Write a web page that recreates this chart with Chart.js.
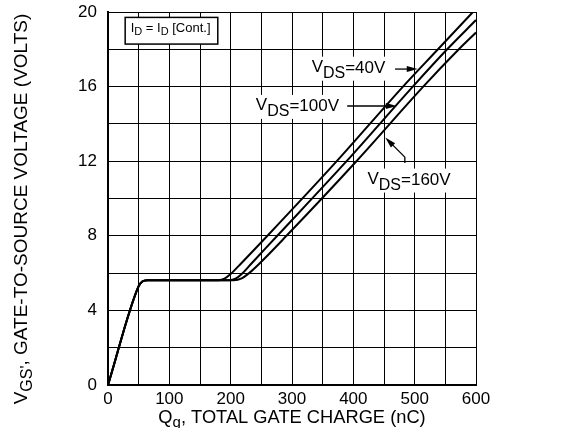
<!DOCTYPE html>
<html>
<head>
<meta charset="utf-8">
<script src="https://cdn.jsdelivr.net/npm/chart.js@4.4.0/dist/chart.umd.min.js"></script>
<style>
html, body { margin: 0; padding: 0; background: #fff; }
canvas { display: block; }
</style>
</head>
<body>
<canvas id="gateChart" width="568" height="428"></canvas>
<script>
// Gate charge curves: Qg (nC) against VGS (V), one curve per VDS
const qgVds40  = [0, 50, 56, 64, 180, 190, 200, 215, 260, 373, 481, 538, 595];
const vgsVds40 = [0, 5.3, 5.55, 5.62, 5.62, 5.7, 5.95, 6.45, 8, 12, 16, 18, 20];
const qgVds100  = [0, 50, 56, 64, 198, 208, 218, 232, 276, 389, 497, 553, 600];
const vgsVds100 = [0, 5.3, 5.55, 5.62, 5.62, 5.7, 5.95, 6.45, 8, 12, 16, 18, 19.57];
const qgVds160  = [0, 50, 56, 64, 205, 218, 230, 245, 291, 405, 514, 572, 600];
const vgsVds160 = [0, 5.3, 5.55, 5.62, 5.62, 5.72, 6.0, 6.45, 8, 12, 16, 18, 18.9];

const xTicks = [0, 100, 200, 300, 400, 500, 600];
const yTicks = [0, 4, 8, 12, 16, 20];

const FONT = '"Liberation Sans", Arial, Helvetica, sans-serif';

function toPoints(xs, ys) {
    return xs.map((x, i) => ({ x: x, y: ys[i] }));
}

function curve(xs, ys) {
    return {
        data: toPoints(xs, ys),
        borderColor: '#000',
        borderWidth: 2,
        pointRadius: 0,
        fill: false,
        cubicInterpolationMode: 'monotone'
    };
}

// draw text pieces one after another: [text, size, yOffset]
function drawRuns(ctx, runs, x, y) {
    let cx = x;
    runs.forEach(([t, size, dy]) => {
        ctx.font = size + 'px ' + FONT;
        ctx.fillText(t, cx, y + dy);
        cx += ctx.measureText(t).width;
    });
    return cx;
}

function runsWidth(ctx, runs) {
    let w = 0;
    runs.forEach(([t, size]) => {
        ctx.font = size + 'px ' + FONT;
        w += ctx.measureText(t).width;
    });
    return w;
}

function arrowHead(ctx, x1, y1, x2, y2) {
    const a = Math.atan2(y2 - y1, x2 - x1);
    const len = 11, half = 3;
    ctx.beginPath();
    ctx.moveTo(x1, y1);
    ctx.lineTo(x2 - (len - 2) * Math.cos(a), y2 - (len - 2) * Math.sin(a));
    ctx.stroke();
    ctx.beginPath();
    ctx.moveTo(x2, y2);
    ctx.lineTo(x2 - len * Math.cos(a) + half * Math.sin(a), y2 - len * Math.sin(a) - half * Math.cos(a));
    ctx.lineTo(x2 - len * Math.cos(a) - half * Math.sin(a), y2 - len * Math.sin(a) + half * Math.cos(a));
    ctx.closePath();
    ctx.fill();
}

// curve labels, placed in data units
const vdsLabels = [
    { text: '=40V', x: 332, y: 16.8, arrow: [[468, 16.94], [505, 16.94]] },
    { text: '=100V', x: 241, y: 14.75, arrow: [[390, 14.96], [471, 14.96]] },
    { text: '=160V', x: 423, y: 10.8, arrow: [[484, 11.9], [484, 12.22], [452, 13.27]] }
];

const annotations = {
    id: 'annotations',
    afterDatasetsDraw(chart) {
        const ctx = chart.ctx;
        const xs = chart.scales.x, ys = chart.scales.y;
        ctx.save();
        ctx.fillStyle = '#000';
        ctx.strokeStyle = '#000';
        ctx.textBaseline = 'alphabetic';
        ctx.textAlign = 'left';

        // current condition box
        const bx1 = xs.getPixelForValue(28), bx2 = xs.getPixelForValue(179);
        const by1 = ys.getPixelForValue(19.71), by2 = ys.getPixelForValue(18.28);
        ctx.fillStyle = '#fff';
        ctx.fillRect(bx1, by1, bx2 - bx1, by2 - by1);
        ctx.lineWidth = 1.5;
        ctx.strokeRect(bx1, by1, bx2 - bx1, by2 - by1);
        ctx.fillStyle = '#000';
        drawRuns(ctx, [['I', 13, 0], ['D', 11, 3], [' = I', 13, 0], ['D', 11, 3], [' [Cont.]', 13, 0]],
            xs.getPixelForValue(37), ys.getPixelForValue(18.94));

        // VDS labels with leader arrows
        vdsLabels.forEach(lab => {
            const runs = [['V', 17, 0], ['DS', 16, 6], [lab.text, 17, 1]];
            const px = xs.getPixelForValue(lab.x), py = ys.getPixelForValue(lab.y);
            const w = runsWidth(ctx, runs);
            ctx.fillStyle = '#fff';
            ctx.fillRect(px - 3, py - 15, w + 6, 24);
            ctx.fillStyle = '#000';
            drawRuns(ctx, runs, px, py);

            const pts = lab.arrow.map(p => [xs.getPixelForValue(p[0]), ys.getPixelForValue(p[1])]);
            ctx.lineWidth = 1.3;
            for (let i = 0; i < pts.length - 2; i++) {
                ctx.beginPath();
                ctx.moveTo(pts[i][0], pts[i][1]);
                ctx.lineTo(pts[i + 1][0], pts[i + 1][1]);
                ctx.stroke();
            }
            const n = pts.length;
            arrowHead(ctx, pts[n - 2][0], pts[n - 2][1], pts[n - 1][0], pts[n - 1][1]);
        });

        // axis titles
        const area = chart.chartArea;
        const xRuns = [['Q', 18.3, 0], ['g', 15, 4], [', TOTAL GATE CHARGE (nC)', 18.3, 0]];
        const xw = runsWidth(ctx, xRuns);
        drawRuns(ctx, xRuns, (area.left + area.right) / 2 - xw / 2, 423);

        const yRuns = [['V', 19, 0], ['GS\'', 16, 5], [', GATE-TO-SOURCE VOLTAGE (VOLTS)', 19, 0]];
        const yw = runsWidth(ctx, yRuns);
        ctx.translate(27, 209);
        ctx.rotate(-Math.PI / 2);
        drawRuns(ctx, yRuns, -yw / 2, 0);
        ctx.restore();
    }
};

const ctx = document.getElementById('gateChart').getContext('2d');
new Chart(ctx, {
    type: 'line',
    data: {
        datasets: [
            curve(qgVds40, vgsVds40),
            curve(qgVds100, vgsVds100),
            curve(qgVds160, vgsVds160)
        ]
    },
    options: {
        responsive: false,
        animation: false,
        devicePixelRatio: 1,
        layout: { padding: { left: 0, top: 12, right: 92, bottom: 0 } },
        plugins: {
            legend: { display: false },
            tooltip: { enabled: false }
        },
        scales: {
            x: {
                type: 'linear',
                min: 0,
                max: 600,
                grid: { color: '#000', lineWidth: 1, drawTicks: false },
                border: { color: '#000', width: 2 },
                ticks: {
                    stepSize: 50,
                    padding: 4,
                    color: '#000',
                    font: { family: FONT, size: 17 },
                    maxRotation: 0,
                    autoSkip: false,
                    callback: v => xTicks.includes(v) ? String(v) : ''
                },
                afterFit: scale => {
                    scale.height = 43;
                    scale.paddingLeft = 0;
                    scale.paddingRight = 0;
                }
            },
            y: {
                min: 0,
                max: 20,
                grid: { color: '#000', lineWidth: 1, drawTicks: false },
                border: { color: '#000', width: 2 },
                ticks: {
                    stepSize: 2,
                    padding: 11,
                    color: '#000',
                    font: { family: FONT, size: 17 },
                    autoSkip: false,
                    callback: v => yTicks.includes(v) ? String(v) : ''
                },
                afterFit: scale => {
                    scale.width = 108;
                    scale.paddingTop = 0;
                    scale.paddingBottom = 0;
                }
            }
        }
    },
    plugins: [annotations]
});
</script>
</body>
</html>
